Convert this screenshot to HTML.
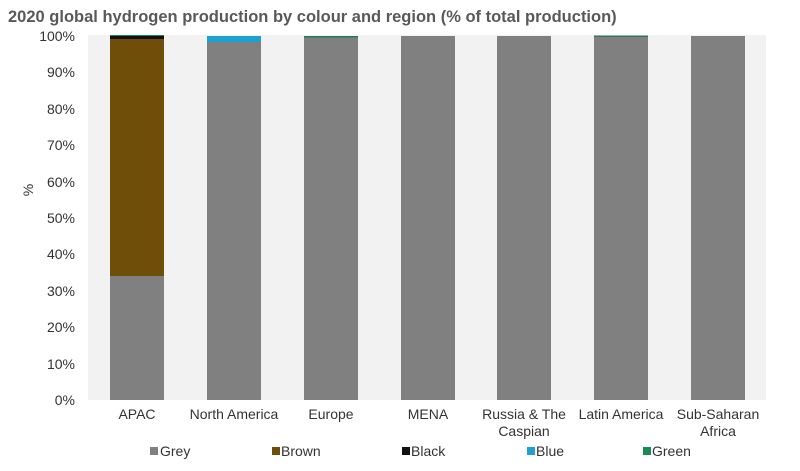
<!DOCTYPE html>
<html><head><style>
body{margin:0;background:#fff;}
svg{display:block;font-family:"Liberation Sans",Arial,sans-serif;}
</style></head><body>
<svg width="800" height="471" viewBox="0 0 800 471">
<text x="8" y="22" font-size="16.5" font-weight="bold" fill="#595959">2020 global hydrogen production by colour and region (% of total production)</text>
<rect x="88" y="35" width="678" height="365" fill="#f2f2f2"/>
<g font-size="14" fill="#333" text-anchor="end">
<text x="75" y="405">0%</text>
<text x="75" y="369">10%</text>
<text x="75" y="332">20%</text>
<text x="75" y="296">30%</text>
<text x="75" y="259">40%</text>
<text x="75" y="223">50%</text>
<text x="75" y="187">60%</text>
<text x="75" y="150">70%</text>
<text x="75" y="114">80%</text>
<text x="75" y="77">90%</text>
<text x="75" y="41">100%</text>
</g>
<text transform="translate(33,190) rotate(-90)" font-size="14" fill="#333" text-anchor="middle">%</text>
<!-- APAC -->
<rect x="110" y="276" width="54" height="124" fill="#808080"/>
<rect x="110" y="39" width="54" height="237" fill="#6f4e0a"/>
<rect x="110" y="36" width="54" height="3" fill="#111"/>
<rect x="110" y="35" width="54" height="1" fill="#1a8a50"/>
<!-- NA -->
<rect x="207" y="42" width="54" height="358" fill="#808080"/>
<rect x="207" y="36" width="54" height="6" fill="#1ea0d2"/>
<!-- Europe -->
<rect x="304" y="37" width="54" height="363" fill="#808080"/>
<rect x="304" y="36" width="54" height="1.5" fill="#2a7a5a"/>
<rect x="401" y="36" width="54" height="364" fill="#808080"/>
<rect x="497" y="36" width="54" height="364" fill="#808080"/>
<rect x="594" y="37" width="54" height="363" fill="#808080"/>
<rect x="594" y="35.5" width="54" height="1.5" fill="#2a7a5a"/>
<rect x="691" y="36" width="54" height="364" fill="#808080"/>
<g font-size="14" fill="#333" text-anchor="middle">
<text x="137" y="419">APAC</text>
<text x="234" y="419">North America</text>
<text x="331" y="419">Europe</text>
<text x="428" y="419">MENA</text>
<text x="524" y="419">Russia &amp; The</text>
<text x="524" y="436">Caspian</text>
<text x="621" y="419">Latin America</text>
<text x="718" y="419">Sub-Saharan</text>
<text x="718" y="436">Africa</text>
</g>
<g font-size="14" fill="#333">
<rect x="150" y="447" width="8" height="8" fill="#808080"/><text x="160" y="456">Grey</text>
<rect x="272" y="447" width="8" height="8" fill="#6f4e0a"/><text x="281" y="456">Brown</text>
<rect x="402" y="447" width="8" height="8" fill="#111"/><text x="411" y="456">Black</text>
<rect x="527" y="447" width="8" height="8" fill="#1ea0d2"/><text x="536" y="456">Blue</text>
<rect x="643" y="447" width="8" height="8" fill="#1a8a50"/><text x="652" y="456">Green</text>
</g>
</svg>
</body></html>
